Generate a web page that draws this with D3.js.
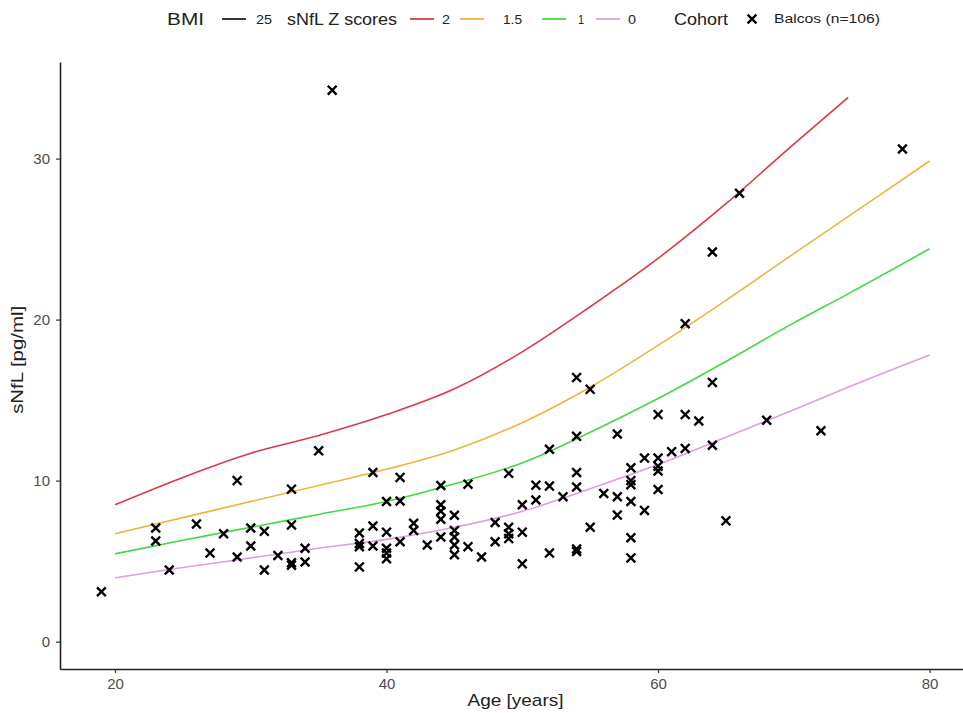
<!DOCTYPE html>
<html>
<head>
<meta charset="utf-8">
<script src="https://cdn.jsdelivr.net/npm/d3@7"></script>
<style>
  body { margin: 0; background: #fff; }
  text { font-family: "Liberation Sans", Arial, sans-serif; }
</style>
</head>
<body>
<div id="chart"></div>
<script>
// Cohort: Balcos (n=106), age in years and sNfL in pg/ml
const ages = [19, 23, 23, 24, 26, 27, 28, 29, 29, 30, 30, 31, 31, 32, 33, 33, 33, 33, 34, 34,
  35, 36, 38, 38, 38, 38, 39, 39, 39, 40, 40, 40, 40, 40, 41, 41, 41, 42, 42, 43,
  44, 44, 44, 44, 44, 45, 45, 45, 45, 45, 46, 46, 47, 48, 48, 49, 49, 49, 49, 50,
  50, 50, 51, 51, 52, 52, 52, 53, 54, 54, 54, 54, 54, 54, 55, 55, 56, 57, 57, 57,
  58, 58, 58, 58, 58, 58, 59, 59, 60, 60, 60, 60, 60, 61, 62, 62, 62, 63, 64, 64,
  64, 65, 66, 68, 72, 78];
const snfl = [3.1, 7.06, 6.25, 4.45, 7.3, 5.5, 6.7, 10.0, 5.26, 7.06, 5.94, 6.85, 4.45, 5.35, 9.47, 7.25, 4.9, 4.75, 5.8, 4.95,
  11.85, 34.25, 6.75, 6.1, 5.9, 4.64, 10.5, 7.18, 5.94, 8.7, 6.8, 5.8, 5.5, 5.15, 10.2, 8.73, 6.2, 7.35, 6.9, 6.0,
  9.7, 8.5, 8.1, 7.6, 6.5, 7.85, 6.9, 6.5, 6.0, 5.4, 9.78, 5.9, 5.26, 7.4, 6.2, 10.45, 7.1, 6.7, 6.4, 8.5,
  6.8, 4.83, 9.72, 8.8, 11.95, 9.66, 5.5, 9.0, 16.4, 12.75, 10.5, 9.6, 5.75, 5.6, 15.67, 7.1, 9.2, 12.9, 9.0, 7.86,
  10.8, 10.0, 9.75, 8.7, 6.45, 5.2, 11.4, 8.15, 14.1, 11.4, 10.9, 10.6, 9.45, 11.8, 19.75, 14.1, 12.0, 13.7, 24.2, 16.1,
  12.2, 7.5, 27.85, 13.75, 13.1, 30.6];

// Z score curves for BMI 25 (red one stops at age 74)
const curveAges = [20, 25, 30, 35, 40, 45, 50, 55, 60, 65, 70, 74, 80];
const z2 = [8.5, 10.2, 11.7, 12.8, 14.1, 15.7, 18.0, 20.8, 23.8, 27.2, 30.9, 33.8, null];
const z15 = [6.7, 7.7, 8.7, 9.7, 10.7, 11.9, 13.6, 15.8, 18.4, 21.2, 24.1, 26.4, 29.85];
const z1 = [5.45, 6.3, 7.1, 7.9, 8.7, 9.8, 11.1, 13.0, 15.1, 17.4, 19.8, 21.6, 24.4];
const z0 = [3.96, 4.6, 5.2, 5.8, 6.35, 7.1, 8.1, 9.5, 11.0, 12.7, 14.4, 15.8, 17.8];

const xTicks = [20, 40, 60, 80];
const yTicks = [0, 10, 20, 30];

const width = 963, height = 713;
const margin = { top: 62, right: -8, bottom: 44, left: 60 };

const svg = d3.select("#chart").append("svg")
  .attr("width", width)
  .attr("height", height);

const x = d3.scaleLinear()
  .domain([15.95, 83.05])
  .range([margin.left, width - margin.right]);
const y = d3.scaleLinear()
  .domain([-1.7, 36.0])
  .range([height - margin.bottom, margin.top]);

// axes
const xAxis = svg.append("g")
  .attr("transform", `translate(0, ${height - margin.bottom})`)
  .call(d3.axisBottom(x).tickValues(xTicks).tickSize(4).tickPadding(5).tickSizeOuter(0));
const yAxis = svg.append("g")
  .attr("transform", `translate(${margin.left}, 0)`)
  .call(d3.axisLeft(y).tickValues(yTicks).tickSize(4).tickPadding(6).tickSizeOuter(0));

[xAxis, yAxis].forEach(function (ax) {
  ax.select(".domain").attr("stroke", "#222").attr("stroke-width", 1.6);
  ax.selectAll(".tick line").attr("stroke", "#333").attr("stroke-width", 1.2);
  ax.selectAll(".tick text").attr("fill", "#4d4d4d").style("font-size", "15px");
});

svg.append("text")
  .attr("x", x(49.5)).attr("y", 706)
  .attr("text-anchor", "middle")
  .attr("textLength", 96).attr("lengthAdjust", "spacingAndGlyphs")
  .style("font-size", "17px").attr("fill", "#222")
  .text("Age [years]");
svg.append("text")
  .attr("transform", `translate(23, ${y(17.5)}) rotate(-90)`)
  .attr("text-anchor", "middle")
  .attr("textLength", 108).attr("lengthAdjust", "spacingAndGlyphs")
  .style("font-size", "16px").attr("fill", "#222")
  .text("sNfL [pg/ml]");

// curves
const line = d3.line()
  .defined(d => d[1] != null)
  .x(d => x(d[0]))
  .y(d => y(d[1]))
  .curve(d3.curveMonotoneX);

const series = [
  { name: "2", values: z2, color: "#dc3a45" },
  { name: "1.5", values: z15, color: "#edb441" },
  { name: "1", values: z1, color: "#3fdb3f" },
  { name: "0", values: z0, color: "#dba0dd" }
];

series.forEach(function (s) {
  const pts = curveAges.map((a, i) => [a, s.values[i]]).filter(d => d[1] != null);
  svg.append("path")
    .datum(pts)
    .attr("fill", "none")
    .attr("stroke", s.color)
    .attr("stroke-width", 1.6)
    .attr("d", line);
});

// points
const cross = "M-4.4,-4.4L4.4,4.4M-4.4,4.4L4.4,-4.4";
svg.append("g")
  .selectAll("path")
  .data(ages.map((a, i) => [a, snfl[i]]))
  .enter()
  .append("path")
  .attr("transform", d => `translate(${x(d[0])}, ${y(d[1])})`)
  .attr("d", cross)
  .attr("stroke", "#000")
  .attr("stroke-width", 2.4)
  .attr("fill", "none");

// legend
const leg = svg.append("g").attr("transform", "translate(0, 19)");
function legText(xp, txt, size, len) {
  leg.append("text").attr("x", xp).attr("y", size * 0.36)
    .attr("textLength", len).attr("lengthAdjust", "spacingAndGlyphs")
    .style("font-size", size + "px").attr("fill", "#222").text(txt);
}
function legLine(xp, color) {
  leg.append("line").attr("x1", xp).attr("x2", xp + 24)
    .attr("y1", 0).attr("y2", 0)
    .attr("stroke", color).attr("stroke-width", 1.8);
}
legText(167, "BMI", 16, 37);
legLine(222, "#222");
legText(256, "25", 13, 16);
legText(287, "sNfL Z scores", 16, 110);
const legX = [[410, 442, 8], [460, 503, 19], [542, 578, 6], [596, 628, 8]];
series.forEach(function (s, i) {
  legLine(legX[i][0], s.color);
  legText(legX[i][1], s.name, 13, legX[i][2]);
});
legText(674, "Cohort", 16, 54);
leg.append("path")
  .attr("transform", "translate(752, 0)")
  .attr("d", cross)
  .attr("stroke", "#000").attr("stroke-width", 2.4);
legText(774, "Balcos (n=106)", 12, 106);
</script>
</body>
</html>
